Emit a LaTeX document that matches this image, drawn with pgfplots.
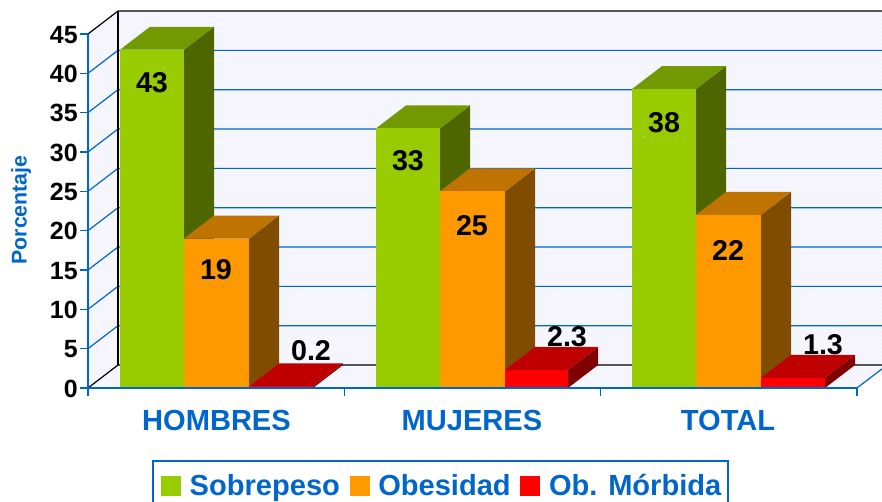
\documentclass[border=0pt]{standalone}
\usepackage{fontspec}
\setmainfont{Liberation Sans}
\usepackage{pgfplots}
\usetikzlibrary{patterns}
\pgfplotsset{compat=1.18}
\definecolor{gfront}{HTML}{99CC00}\definecolor{gtop}{HTML}{739900}\definecolor{gside}{HTML}{4D6600}
\definecolor{ofront}{HTML}{FF9900}\definecolor{otop}{HTML}{BF7300}\definecolor{oside}{HTML}{804D00}
\definecolor{rfront}{HTML}{FF0000}\definecolor{rtop}{HTML}{BF0000}\definecolor{rside}{HTML}{800000}
\definecolor{blueg}{HTML}{0066CC}\definecolor{wall}{HTML}{F8F8FF}\definecolor{walld}{HTML}{E4E4FF}
% x1, x2 in horizontal plot units; value in percent
\newcommand{\tdbar}[4]{%
  \pgfmathsetmacro{\xc}{#1+30}\pgfmathsetmacro{\xd}{#2+30}\pgfmathsetmacro{\vb}{#3+2.92}\pgfmathsetmacro{\bb}{2.92}%
  \addplot[draw=none,fill=#4side,forget plot] coordinates {(#2,0) (\xd,\bb) (\xd,\vb) (#2,#3)} -- cycle;
  \addplot[draw=none,fill=#4top,forget plot] coordinates {(#1,#3) (#2,#3) (\xd,\vb) (\xc,\vb)} -- cycle;
  \addplot[draw=none,fill=#4front,forget plot] coordinates {(#1,0) (#2,0) (#2,#3) (#1,#3)} -- cycle;
}
\newcommand{\gridl}[1]{%
  \pgfmathsetmacro{\vb}{#1+2.92}%
  \addplot[blueg,line width=0.9pt,forget plot] coordinates {(88,#1) (118,\vb) (882,\vb)};
}
\begin{document}
\begin{tikzpicture}
\path[use as bounding box] (0,0) rectangle (661.5pt,376.5pt);
\begin{axis}[
  at={(66pt,85.5pt)}, anchor=south west,
  scale only axis, width=576.75pt, height=265.5pt,
  xmin=88, xmax=857, ymin=0, ymax=45, clip=false, axis on top,
  axis x line=bottom, axis y line=left,
  axis line style={-,blueg,line width=0.9pt},
  tick style={blueg,line width=0.9pt},
  tick align=outside,
  ytick={0,5,...,45},
  xtick={88,344.3,600.7,857},
  xticklabels={},
  extra x ticks={216.5,472,728},
  extra x tick labels={HOMBRES,MUJERES,TOTAL},
  extra x tick style={major tick length=0pt,xticklabel style={yshift=-13pt}},
  major tick length=6pt,
  /pgf/number format/assume math mode=true,
  yticklabel style={font=\fontsize{18.7pt}{20pt}\selectfont\bfseries,text=black,inner sep=0pt,xshift=-1.5pt,yshift=-0.5pt},
  xticklabel style={font=\fontsize{21.8pt}{24pt}\selectfont\bfseries,text=blueg},
  ylabel={Porcentaje},
  every axis y label/.style={at={(axis description cs:-0.0871,0.503)},anchor=center,rotate=90,font=\fontsize{16pt}{18pt}\selectfont\bfseries,text=blueg},
  legend columns=-1,
  legend cell align=left,
  legend style={at={(axis description cs:0.4584,-0.2768)},anchor=center,draw=blueg,line width=0.9pt,
    font=\fontsize{21.8pt}{24pt}\selectfont\bfseries,text=blueg,inner xsep=3pt,inner ysep=8pt,
    /tikz/every even column/.append style={column sep=2.25pt},
    /tikz/every odd column/.append style={column sep=4.5pt}},
  legend image code/.code={\path (0pt,0pt) -- (18pt,0pt);\path[#1] (3pt,-7.5pt) rectangle (18pt,7.5pt);},
]
% walls and floor
\addplot[draw=none,fill=wall,forget plot] coordinates {(88,0) (857,0) (882,2.43) (882,47.92) (118,47.92) (88,45)} -- cycle;
\addplot[draw=none,pattern=crosshatch dots,pattern color=walld,forget plot] coordinates {(88,0) (857,0) (882,2.43) (882,47.92) (118,47.92) (88,45)} -- cycle;
\gridl{5}\gridl{10}\gridl{15}\gridl{20}\gridl{25}\gridl{30}\gridl{35}\gridl{40}
\addplot[black,line width=0.9pt,forget plot] coordinates {(88,0) (118,2.92) (882,2.92)};
\addplot[black,line width=0.9pt,forget plot] coordinates {(88,45) (118,47.92) (882,47.92)};
\addplot[black,line width=0.9pt,forget plot] coordinates {(118,2.92) (118,47.92)};
\addplot[blueg,line width=0.9pt,forget plot] coordinates {(857,0) (882,2.43)};
% HOMBRES
\tdbar{120}{184}{43}{g}\tdbar{184}{249}{19}{o}\tdbar{249}{313}{0.2}{r}
% MUJERES
\tdbar{376}{440}{33}{g}\tdbar{440}{505}{25}{o}\tdbar{505}{568}{2.3}{r}
% TOTAL
\tdbar{632}{696}{38}{g}\tdbar{696}{761}{22}{o}\tdbar{761}{825}{1.3}{r}
% value labels
\tikzset{vl/.style={font=\fontsize{21.5pt}{24pt}\selectfont\bfseries,text=black,inner sep=0pt}}
\node[vl] at (axis cs:152,38.85) {43};
\node[vl] at (axis cs:216,15) {19};
\node[vl] at (axis cs:311,4.8) {0.2};
\node[vl] at (axis cs:408,28.9) {33};
\node[vl] at (axis cs:472,20.6) {25};
\node[vl] at (axis cs:567,6.55) {2.3};
\node[vl] at (axis cs:664,33.7) {38};
\node[vl] at (axis cs:728,17.5) {22};
\node[vl] at (axis cs:823,5.5) {1.3};
\addlegendimage{fill=gfront,draw=none}\addlegendentry{Sobrepeso}
\addlegendimage{fill=ofront,draw=none}\addlegendentry{Obesidad}
\addlegendimage{fill=rfront,draw=none}\addlegendentry{Ob. Mórbida}
\end{axis}
\end{tikzpicture}
\end{document}
